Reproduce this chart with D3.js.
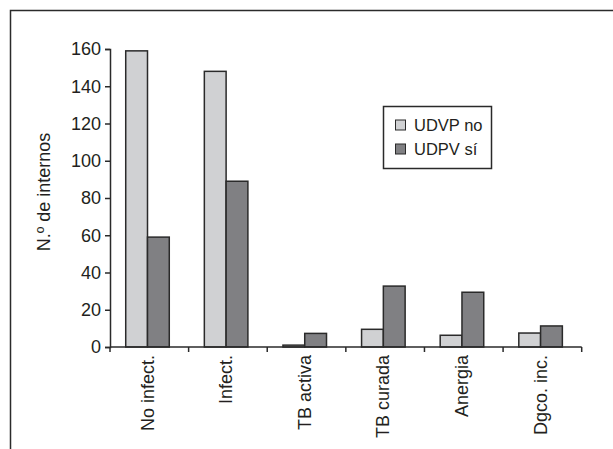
<!DOCTYPE html>
<html>
<head>
<meta charset="utf-8">
<script src="https://cdn.jsdelivr.net/npm/d3@7"></script>
<style>
  html, body { margin: 0; padding: 0; background: #fff; }
  svg { display: block; }
  text { font-family: "Liberation Sans", Arial, sans-serif; fill: #231f20; }
</style>
</head>
<body>
<svg id="chart" width="613" height="449"></svg>
<script>
const categories = ["No infect.", "Infect.", "TB activa", "TB curada", "Anergia", "Dgco. inc."];
const seriesNames = ["UDVP no", "UDPV sí"];
const udvpNo = [159, 148, 1, 9.5, 6.3, 7.5];
const udpvSi = [59, 89, 7.3, 32.7, 29.4, 11.3];
const yTicks = [0, 20, 40, 60, 80, 100, 120, 140, 160];
const seriesColors = ["#d0d1d3", "#808083"];

(function () {
const svg = d3.select("#chart");

// outer frame (extends beyond the picture at right/bottom)
svg.append("rect")
  .attr("x", 10.5).attr("y", 10.5)
  .attr("width", 640).attr("height", 480)
  .attr("fill", "none").attr("stroke", "#2b2b2b").attr("stroke-width", 1.5);

const mLeft = 110, mRight = 581.7, mTop = 49, mBottom = 347;

const x = d3.scaleBand().domain(categories).range([mLeft, mRight]).paddingInner(0).paddingOuter(0);
const y = d3.scaleLinear().domain([0, 160]).range([mBottom, mTop]);

const bw = x.bandwidth();
const barW = bw * 0.277;
const groupOff = bw * 0.2;

const series = [udvpNo, udpvSi];
series.forEach((vals, si) => {
  svg.append("g").selectAll("rect")
    .data(categories.map((c, i) => ({ c, v: vals[i] })))
    .join("rect")
    .attr("x", d => x(d.c) + groupOff + si * barW)
    .attr("y", d => y(d.v))
    .attr("width", barW)
    .attr("height", d => y(0) - y(d.v))
    .attr("fill", seriesColors[si])
    .attr("stroke", "#2a2a2a")
    .attr("stroke-width", 1.5);
});

// y axis
const yAxis = d3.axisLeft(y).tickValues(yTicks).tickSize(5).tickPadding(4);
const gy = svg.append("g").attr("transform", `translate(${mLeft},0)`).call(yAxis);
gy.select(".domain").attr("stroke", "#2a2a2a").attr("stroke-width", 1.5);
gy.selectAll(".tick line").attr("stroke", "#2a2a2a").attr("stroke-width", 1.5);
gy.selectAll(".tick text").style("font-size", "18px").attr("fill", "#231f20")
  .style("font-family", "'Liberation Sans', Arial, sans-serif");

// x axis: ticks at band boundaries
const boundaries = categories.map(c => x(c)).concat([mRight]);
svg.append("line").attr("x1", mLeft).attr("x2", mRight).attr("y1", mBottom).attr("y2", mBottom)
  .attr("stroke", "#2a2a2a").attr("stroke-width", 1.5);
svg.append("g").selectAll("line").data(boundaries).join("line")
  .attr("x1", d => d).attr("x2", d => d).attr("y1", mBottom).attr("y2", mBottom + 5)
  .attr("stroke", "#2a2a2a").attr("stroke-width", 1.5);

// category labels, centred on the bar group
svg.append("g").selectAll("text").data(categories).join("text")
  .attr("transform", c => `translate(${x(c) + groupOff + barW + 6},${mBottom + 8}) rotate(-90)`)
  .attr("text-anchor", "end")
  .style("font-size", "18px")
  .text(c => c);

// y title
svg.append("text")
  .attr("transform", `translate(50,192) rotate(-90)`)
  .attr("text-anchor", "middle")
  .style("font-size", "18px")
  .text("N.º de internos");

// legend
const lg = svg.append("g");
lg.append("rect").attr("x", 383.5).attr("y", 106.5).attr("width", 108).attr("height", 62)
  .attr("fill", "#fff").attr("stroke", "#2a2a2a").attr("stroke-width", 1.5);
seriesNames.forEach((n, i) => {
  const cy = 125 + i * 24;
  lg.append("rect").attr("x", 395.5).attr("y", cy - 5).attr("width", 10).attr("height", 10)
    .attr("fill", seriesColors[i]).attr("stroke", "#2a2a2a").attr("stroke-width", 1);
  lg.append("text").attr("x", 414).attr("y", cy + 6).style("font-size", "16.5px").text(n);
});
})();
</script>
</body>
</html>
